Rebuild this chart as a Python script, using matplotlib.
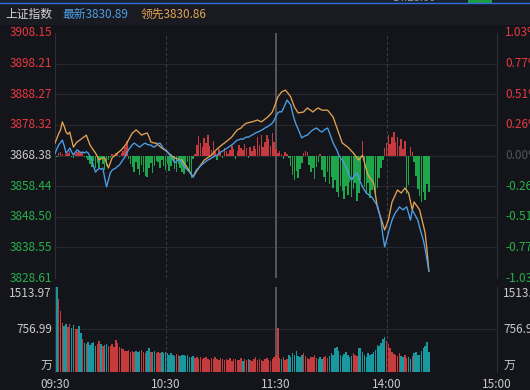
import matplotlib.pyplot as plt
from matplotlib.patches import Rectangle
from matplotlib.transforms import blended_transform_factory

plt.rcParams['font.family'] = ['Noto Sans CJK SC', 'DejaVu Sans']

# 上证指数 分时数据 (minute 0 = 09:30, 120 = 11:30/13:00)
prev_close = 3868.38
price_ticks = [3908.15, 3898.21, 3888.27, 3878.32, 3868.38, 3858.44, 3848.50, 3838.55, 3828.61]
vol_ticks = [1513.97, 756.99]
time_labels = ['09:30', '10:30', '11:30', '14:00', '15:00']
time_minutes = [0, 60, 120, 180, 240]
latest_last = 3830.89
leading_last = 3830.86

# 最新 (blue line)
latest = [
    3869.0, 3870.5, 3871.8, 3872.6, 3873.4, 3871.5, 3869.2, 3869.8, 3870.8, 3869.6,
    3868.5, 3869.4, 3870.2, 3869.8, 3869.3, 3869.5, 3869.2, 3869.6, 3869.2, 3868.0,
    3866.9, 3864.8, 3863.0, 3863.7, 3864.2, 3863.9, 3864.3, 3861.0, 3858.2, 3860.5,
    3862.7, 3863.6, 3864.0, 3864.3, 3864.9, 3865.3, 3866.2, 3867.1, 3867.9, 3869.2,
    3870.3, 3871.1, 3871.9, 3872.4, 3872.0, 3871.5, 3871.1, 3871.6, 3872.1, 3872.4,
    3872.0, 3871.8, 3871.8, 3871.3, 3871.1, 3871.7, 3872.2, 3872.4, 3871.5, 3870.6,
    3870.2, 3869.7, 3868.8, 3868.0, 3867.0, 3866.0, 3866.5, 3867.0, 3866.9, 3865.8,
    3864.9, 3864.3, 3863.6, 3863.0, 3862.2, 3861.4, 3862.8, 3863.9, 3864.3, 3865.0,
    3865.5, 3866.0, 3866.5, 3866.9, 3867.2, 3867.6, 3867.9, 3868.3, 3868.5, 3869.0,
    3869.5, 3869.8, 3870.2, 3870.6, 3871.0, 3871.4, 3871.8, 3872.3, 3872.9, 3873.4,
    3873.5, 3873.8, 3873.6, 3874.1, 3874.4, 3874.3, 3874.7, 3875.0, 3875.4, 3875.7,
    3876.0, 3876.2, 3876.6, 3876.9, 3877.3, 3877.6, 3878.0, 3878.4, 3878.9, 3879.8,
    3881.2, 3882.2, 3882.6, 3882.5, 3883.6, 3885.0, 3886.4, 3885.6, 3884.8, 3882.2,
    3880.0, 3878.3, 3877.0, 3875.5, 3874.1, 3874.5, 3874.8, 3875.0, 3875.6, 3876.2,
    3876.7, 3877.0, 3877.3, 3876.8, 3876.3, 3876.0, 3876.6, 3877.0, 3877.3, 3875.8,
    3874.1, 3872.5, 3871.3, 3870.2, 3868.6, 3867.6, 3866.9, 3865.8, 3864.6, 3863.0,
    3861.5, 3860.4, 3861.4, 3862.2, 3862.7, 3861.0, 3859.5, 3858.2, 3857.2, 3856.2,
    3855.8, 3855.3, 3854.9, 3854.0, 3853.0, 3852.3, 3849.8, 3847.4, 3842.5, 3838.7,
    3841.0, 3843.2, 3845.4, 3847.4, 3848.8, 3850.0, 3850.7, 3851.7, 3851.2, 3850.7,
    3851.3, 3851.7, 3849.5, 3847.4, 3850.7, 3849.6, 3848.5, 3847.4, 3845.0, 3843.0,
    3840.9, 3838.0, 3834.5, latest_last,
]

# 领先 (orange line)
leading = [
    3872.4, 3874.0, 3875.5, 3876.7, 3879.3, 3877.8, 3876.0, 3875.3, 3876.0, 3873.5,
    3871.1, 3872.0, 3872.8, 3873.2, 3873.6, 3874.1, 3874.5, 3875.0, 3873.4, 3871.8,
    3870.9, 3870.0, 3869.2, 3868.0, 3866.9, 3867.3, 3867.6, 3867.6, 3866.0, 3864.3,
    3866.0, 3867.6, 3868.2, 3868.7, 3869.2, 3869.7, 3870.2, 3870.9, 3871.6, 3872.4,
    3873.5, 3874.6, 3875.7, 3876.1, 3876.7, 3876.2, 3875.6, 3875.0, 3875.3, 3875.5,
    3875.7, 3874.5, 3872.8, 3872.6, 3872.4, 3872.4, 3871.8, 3871.3, 3870.8, 3870.4,
    3870.0, 3869.5, 3869.0, 3868.5, 3868.0, 3867.6, 3867.4, 3867.2, 3867.0, 3866.9,
    3866.0, 3865.2, 3864.3, 3863.3, 3862.3, 3861.4, 3862.4, 3863.4, 3864.3, 3865.2,
    3866.0, 3866.9, 3867.3, 3867.7, 3868.1, 3868.5, 3869.2, 3869.9, 3870.5, 3871.0,
    3871.5, 3872.0, 3872.4, 3872.9, 3873.4, 3873.9, 3874.4, 3875.2, 3876.0, 3876.7,
    3877.0, 3877.3, 3878.0, 3878.5, 3878.9, 3879.0, 3879.2, 3879.3, 3879.5, 3879.7,
    3879.9, 3879.6, 3879.3, 3879.7, 3880.2, 3880.6, 3881.2, 3881.8, 3882.5, 3884.0,
    3885.7, 3887.4, 3888.2, 3889.0, 3889.3, 3889.6, 3889.0, 3888.2, 3887.4, 3885.8,
    3884.1, 3883.2, 3882.2, 3882.3, 3882.4, 3882.5, 3883.2, 3883.8, 3883.4, 3883.0,
    3882.5, 3883.0, 3883.5, 3883.8, 3883.4, 3883.1, 3883.1, 3883.1, 3883.1, 3882.4,
    3881.6, 3880.9, 3879.2, 3877.4, 3875.7, 3874.0, 3872.4, 3872.0, 3871.5, 3871.1,
    3870.5, 3869.8, 3869.2, 3868.4, 3867.6, 3866.9, 3867.7, 3868.5, 3866.2, 3863.9,
    3862.0, 3861.1, 3860.3, 3859.5, 3855.6, 3851.7, 3849.8, 3848.0, 3846.1, 3844.2,
    3845.8, 3847.4, 3850.4, 3853.3, 3854.6, 3855.9, 3857.2, 3856.7, 3856.2, 3857.0,
    3857.8, 3857.0, 3856.2, 3853.5, 3850.7, 3853.3, 3852.4, 3851.6, 3850.7, 3848.2,
    3845.7, 3843.2, 3837.5, leading_last,
]

# red/green bars around prev close
spread = [
    0.6, -0.4, 0.8, 1.2, 0.5, -0.3, 0.4, 0.9, 1.3, -0.5,
    -0.8, 0.6, 1.0, 1.6, 1.2, 0.7, -0.6, -0.9, -1.5, -2.8,
    -3.6, -1.8, -4.2, -2.5, -3.9, -1.2, -2.9, -4.6, -3.3, -1.4,
    -0.8, 0.5, -0.6, 0.8, 1.1, -0.4, 0.9, 1.6, 2.8, 4.8,
    -1.2, -2.6, -3.8, -5.5, -2.1, -4.4, -6.3, -3.0, -5.2, -6.8,
    -7.0, -4.1, -2.5, -5.6, -3.4, -1.8, -2.2, -4.0, -1.5, -3.5,
    -4.6, -2.8, -5.0, -3.3, -1.6, -4.3, -5.4, -2.6, -3.9, -5.2,
    -6.0, -4.5, -2.2, -5.8, -7.2, -1.2, 0.4, 3.5, 6.3, 4.2,
    2.6, 5.7, 4.0, 6.6, 3.2, 1.9, 4.8, 1.2, -1.3, 2.0,
    1.6, -0.8, 2.5, 1.3, 0.6, 1.9, 3.0, 2.2, -1.0, 1.5,
    3.3, 2.4, 1.8, 3.6, 2.5, -0.7, 2.9, 1.6, 3.2, 2.1,
    5.9, 3.4, 6.6, 2.7, 4.3, 6.8, 5.5, 3.0, 7.2, 4.5,
    2.0, 0.8, 1.5, 0.6, -1.2, 1.0, 0.5, -0.8, -3.5, -6.2,
    -8.1, -5.0, -7.4, -4.4, -2.5, 0.9, 1.5, 1.2, -3.0, -5.5,
    -4.2, -7.5, -3.8, -2.0, 0.6, -4.6, -6.9, -8.6, -5.3, -9.2,
    -7.0, -10.5, -8.1, -12.0, -13.5, -9.8, -11.4, -14.2, -10.0, -12.8,
    -8.5, -13.6, -11.0, -9.0, -14.8, -12.1, -7.8, 4.6, -10.2, -12.6,
    -8.9, -13.8, -11.2, -9.5, -12.3, -10.4, -7.2, -4.0, -1.5, 2.5,
    4.2, 6.8, 3.6, 5.9, 7.5, 4.3, 6.0, 3.1, 5.3, 2.2,
    4.6, -12.5, -9.6, 2.8, 1.2, -2.0, -6.5, -10.8, -13.0, -15.2,
    -11.8, -14.5, -9.4, -12.0,
]

# 成交量 (万)
volume = [
    540, 1513.97, 1300, 1080, 880, 820, 860, 800, 850, 790,
    840, 770, 760, 820, 700, 580, 520, 500, 530, 480,
    510, 540, 470, 500, 560, 490, 470, 480, 500, 470,
    460, 490, 450, 570, 520, 450, 430, 410, 380, 370,
    390, 360, 380, 350, 370, 360, 380, 400, 350, 340,
    370, 420, 360, 350, 380, 340, 360, 330, 350, 340,
    360, 330, 310, 340, 300, 290, 320, 300, 280, 310,
    300, 290, 310, 270, 260, 280, 250, 270, 240, 260,
    230, 250, 270, 240, 220, 250, 230, 260, 240, 220,
    250, 230, 210, 240, 220, 250, 200, 230, 240, 210,
    220, 250, 200, 230, 210, 240, 220, 190, 230, 260,
    210, 240, 220, 200, 230, 250, 220, 200, 240, 260,
    300, 780, 250, 230, 260, 220, 240, 300, 270, 330,
    310, 380, 290, 260, 300, 330, 280, 250, 240, 270,
    260, 300, 250, 230, 270, 240, 260, 280, 250, 290,
    330, 300, 420, 440, 380, 310, 280, 320, 360, 300,
    270, 290, 330, 310, 280, 420, 430, 350, 310, 270,
    330, 300, 320, 360, 400, 480, 470, 520, 590, 620,
    550, 500, 430, 350, 320, 300, 280, 330, 290, 260,
    300, 250, 270, 240, 280, 330, 350, 300, 310, 380,
    420, 470, 540, 350,
]

BG = '#14151b'
HEAD_BG = '#1a1b22'
RED = '#e8393f'
GREEN = '#27b04a'
GRAY = '#c9c9c9'
BLUE = '#4d9fe8'
ORANGE = '#e2a350'
BAR_RED = '#c43a3e'
BAR_GREEN = '#1ea64a'
VOL_RED = '#c53c3f'
VOL_TEAL = '#1a98a0'
GRID = '#272930'

W, H = 530, 390
fig = plt.figure(figsize=(W / 100, H / 100), dpi=100, facecolor=BG)

# header strip
fig.patches.append(Rectangle((0, 1 - 25 / H), 1, 22 / H, transform=fig.transFigure,
                             facecolor=HEAD_BG, edgecolor='none', zorder=0))
fig.patches.append(Rectangle((0, 1 - 3 / H), 1, 3 / H, transform=fig.transFigure,
                             facecolor='#182231', edgecolor='none', zorder=0))
fig.patches.append(Rectangle((468 / W, 1 - 2.5 / H), 24 / W, 2.5 / H, transform=fig.transFigure,
                             facecolor='#1f9a44', edgecolor='none', zorder=1))
fig.add_artist(plt.Line2D([0, 1], [1 - 3 / H, 1 - 3 / H], transform=fig.transFigure,
                          color='#2d6fd8', lw=1.0))
fig.text(392 / W, 1 + 2 / H, '14:23:00', color='#9a9a9a', fontsize=8, va='center', ha='left')

hy = 1 - 14.5 / H
fig.text(5 / W, hy, '上证指数', color='#d6d6d6', fontsize=8.5, va='center')
fig.text(62 / W, hy, f'最新{latest_last:.2f}', color=BLUE, fontsize=8.5, va='center')
fig.text(141 / W, hy, f'领先{leading_last:.2f}', color=ORANGE, fontsize=8.5, va='center')

left, width = 55 / W, 442 / W
ax = fig.add_axes([left, 1 - 278 / H, width, 245 / H])
axv = fig.add_axes([left, 1 - 372 / H, width, 85 / H])

for a in (ax, axv):
    a.set_facecolor(BG)
    a.set_xlim(0, 240)
    a.set_xticks([])
    a.set_yticks([])
    for s in ('top', 'bottom'):
        a.spines[s].set_visible(False)
    for s in ('left', 'right'):
        a.spines[s].set_color('#2e3038')
        a.spines[s].set_linewidth(0.8)
    for m in (60, 180):
        a.axvline(m, color='#3a3c44', lw=0.8, ls=(0, (3, 2)), zorder=1)
    a.axvline(120, color='#5a5c66', lw=1.3, zorder=1)

# main price panel
ax.set_ylim(price_ticks[-1], price_ticks[0])
for lv in price_ticks[1:]:
    ax.axhline(lv, color=GRID, lw=0.8, zorder=0)

minutes = list(range(len(latest)))
bar_colors = [BAR_RED if v >= 0 else BAR_GREEN for v in spread]
ax.bar(minutes, spread, bottom=prev_close, width=0.8, color=bar_colors, zorder=2)
ax.plot(minutes, leading, color=ORANGE, lw=0.95, zorder=3)
ax.plot(minutes, latest, color=BLUE, lw=0.95, zorder=4)

ytr = blended_transform_factory(ax.transAxes, ax.transData)
for lv in price_ticks:
    if lv > prev_close:
        c = RED
    elif lv < prev_close:
        c = GREEN
    else:
        c = GRAY
    pct = (lv / prev_close - 1) * 100
    ax.text(-0.007, lv, f'{lv:.2f}', transform=ytr, ha='right', va='center',
            color=c, fontsize=8.5, clip_on=False)
    ax.text(1.018, lv, f'{pct:.2f}%', transform=ytr, ha='left', va='center',
            color=c if lv != prev_close else '#7d7f86', fontsize=8.5, clip_on=False,
            alpha=1 if lv != prev_close else 0.6)

# volume panel
axv.set_ylim(0, vol_ticks[0])
axv.axhline(vol_ticks[1], color=GRID, lw=0.8, zorder=0)
vol_colors = [VOL_TEAL if i > 0 and latest[i] < latest[i - 1] else VOL_RED
              for i in range(len(volume))]
vol_colors[0] = '#63d2e3'
vol_colors[1] = VOL_TEAL
axv.bar(minutes, volume, width=0.8, color=vol_colors, zorder=2)

vtr = blended_transform_factory(axv.transAxes, axv.transData)
for xpos, ha in ((-0.007, 'right'), (1.014, 'left')):
    axv.text(xpos, vol_ticks[0], f'{vol_ticks[0]:.2f}', transform=vtr, ha=ha, va='top',
             color=GRAY, fontsize=8.5, clip_on=False)
    axv.text(xpos, vol_ticks[1], f'{vol_ticks[1]:.2f}', transform=vtr, ha=ha, va='center',
             color=GRAY, fontsize=8.5, clip_on=False)
    axv.text(xpos, 0, '万', transform=vtr, ha=ha, va='bottom',
             color=GRAY, fontsize=8.5, clip_on=False)

xtr = blended_transform_factory(axv.transData, axv.transAxes)
for m, lab in zip(time_minutes, time_labels):
    axv.text(m, -0.15, lab, transform=xtr, ha='center', va='center',
             color=GRAY, fontsize=8.5, clip_on=False)

fig.savefig('out.png', dpi=100, facecolor=BG)
